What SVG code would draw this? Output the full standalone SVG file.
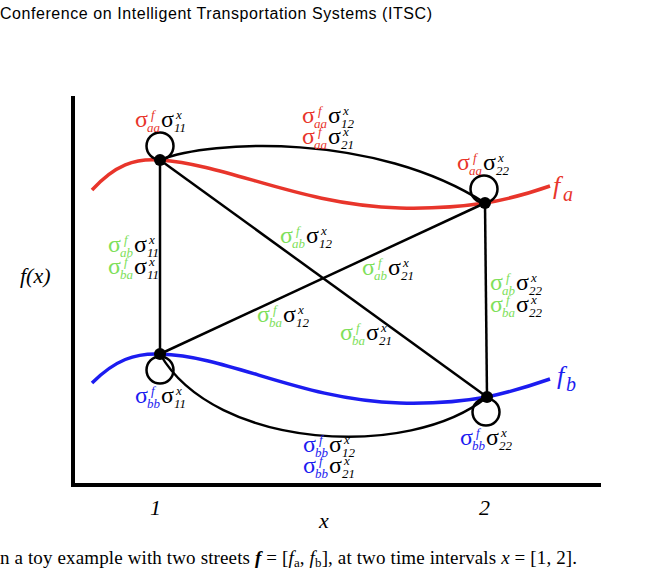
<svg xmlns="http://www.w3.org/2000/svg" width="655" height="579" viewBox="0 0 655 579">
<style>
.bg{fill:#fff}
.ax{stroke:#000;stroke-width:4;fill:none}
.e{stroke:#000;stroke-width:2.5;fill:none}
.lp{stroke:#000;stroke-width:2.5;fill:none}
.dot{fill:#000}
.fa{stroke:#e8352b;stroke-width:3.5;fill:none}
.fb{stroke:#1c1cf0;stroke-width:3.5;fill:none}
.s{font-family:"Liberation Serif",serif;font-size:24px}
.t{font-family:"Liberation Serif",serif;font-size:13px;font-style:italic}
.it{font-family:"Liberation Serif",serif;font-style:italic}
.r{fill:#e8352b}.g{fill:#7ee05a}.b{fill:#1c1cf0}
</style>
<rect class="bg" width="655" height="579"/>
<text x="0" y="19" font-family="Liberation Sans, sans-serif" font-size="16" textLength="432">Conference on Intelligent Transportation Systems (ITSC)</text>

<g id="axes">
<line class="ax" x1="73" y1="96" x2="73" y2="487"/>
<line class="ax" x1="71" y1="485" x2="601" y2="485"/>
<text class="it" x="20" y="283" font-size="22">f(x)</text>
<text class="it" x="150" y="515" font-size="22">1</text>
<text class="it" x="479" y="515" font-size="22">2</text>
<text class="it" x="319" y="528" font-size="22">x</text>
</g>

<g id="functions">
<path class="fa" d="M92,190 C115,165 135,158 160,160 C230,165 300,205 400,208 C440,209 465,206 485,203 C510,199 530,193 550,186"/>
<path class="fb" d="M92,383 C115,360 135,353 160,354 C230,356 300,400 400,403 C440,404 465,401 487,397 C510,392 530,386 550,379"/>
<text class="it r" x="553" y="194" font-size="26">f</text><text class="it r" x="563" y="201" font-size="20">a</text>
<text class="it b" x="557" y="384" font-size="26">f</text><text class="it b" x="566" y="391" font-size="20">b</text>
</g>

<g id="connectors">
<line class="e" x1="160" y1="160" x2="160" y2="354"/>
<line class="e" x1="485" y1="203" x2="487" y2="397"/>
<line class="e" x1="160" y1="160" x2="487" y2="397"/>
<line class="e" x1="160" y1="354" x2="485" y2="203"/>
<path class="e" d="M160,160 C210,140 375,132 485,203"/>
<path class="e" d="M160,354 C215,450 410,460 487,397"/>
</g>

<g id="node-a1">
<circle class="lp" cx="160" cy="146" r="13.5"/>
<circle class="dot" cx="160" cy="160" r="6"/>
<g transform="translate(135,127)"><text class="s r">σ</text><text class="t r" x="16" y="-8">f</text><text class="t r" x="12" y="5">aa</text><text class="s" x="26">σ</text><text class="t" x="41" y="-8">x</text><text class="t" x="39" y="5">11</text></g>
</g>
<g id="node-a2">
<circle class="lp" cx="484" cy="189" r="13.5"/>
<circle class="dot" cx="485" cy="203" r="6"/>
<g transform="translate(457,170)"><text class="s r">σ</text><text class="t r" x="16" y="-8">f</text><text class="t r" x="12" y="5">aa</text><text class="s" x="26">σ</text><text class="t" x="41" y="-8">x</text><text class="t" x="39" y="5">22</text></g>
</g>
<g id="node-b1">
<circle class="lp" cx="160" cy="370" r="13.5"/>
<circle class="dot" cx="160" cy="354" r="6"/>
<g transform="translate(135,403)"><text class="s b">σ</text><text class="t b" x="16" y="-8">f</text><text class="t b" x="12" y="5">bb</text><text class="s" x="26">σ</text><text class="t" x="41" y="-8">x</text><text class="t" x="39" y="5">11</text></g>
</g>
<g id="node-b2">
<circle class="lp" cx="486" cy="412" r="13.5"/>
<circle class="dot" cx="487" cy="397" r="6"/>
<g transform="translate(460,445)"><text class="s b">σ</text><text class="t b" x="16" y="-8">f</text><text class="t b" x="12" y="5">bb</text><text class="s" x="26">σ</text><text class="t" x="41" y="-8">x</text><text class="t" x="39" y="5">22</text></g>
</g>

<g id="edge-labels">
<g transform="translate(302,123)"><text class="s r">σ</text><text class="t r" x="16" y="-8">f</text><text class="t r" x="12" y="5">aa</text><text class="s" x="26">σ</text><text class="t" x="41" y="-8">x</text><text class="t" x="39" y="5">12</text></g>
<g transform="translate(302,144)"><text class="s r">σ</text><text class="t r" x="16" y="-8">f</text><text class="t r" x="12" y="5">aa</text><text class="s" x="26">σ</text><text class="t" x="41" y="-8">x</text><text class="t" x="39" y="5">21</text></g>
<g transform="translate(108,252)"><text class="s g">σ</text><text class="t g" x="16" y="-8">f</text><text class="t g" x="12" y="5">ab</text><text class="s" x="26">σ</text><text class="t" x="41" y="-8">x</text><text class="t" x="39" y="5">11</text></g>
<g transform="translate(108,274)"><text class="s g">σ</text><text class="t g" x="16" y="-8">f</text><text class="t g" x="12" y="5">ba</text><text class="s" x="26">σ</text><text class="t" x="41" y="-8">x</text><text class="t" x="39" y="5">11</text></g>
<g transform="translate(280,243)"><text class="s g">σ</text><text class="t g" x="16" y="-8">f</text><text class="t g" x="12" y="5">ab</text><text class="s" x="26">σ</text><text class="t" x="41" y="-8">x</text><text class="t" x="39" y="5">12</text></g>
<g transform="translate(257,322)"><text class="s g">σ</text><text class="t g" x="16" y="-8">f</text><text class="t g" x="12" y="5">ba</text><text class="s" x="26">σ</text><text class="t" x="41" y="-8">x</text><text class="t" x="39" y="5">12</text></g>
<g transform="translate(362,275)"><text class="s g">σ</text><text class="t g" x="16" y="-8">f</text><text class="t g" x="12" y="5">ab</text><text class="s" x="26">σ</text><text class="t" x="41" y="-8">x</text><text class="t" x="39" y="5">21</text></g>
<g transform="translate(340,340)"><text class="s g">σ</text><text class="t g" x="16" y="-8">f</text><text class="t g" x="12" y="5">ba</text><text class="s" x="26">σ</text><text class="t" x="41" y="-8">x</text><text class="t" x="39" y="5">21</text></g>
<g transform="translate(490,290)"><text class="s g">σ</text><text class="t g" x="16" y="-8">f</text><text class="t g" x="12" y="5">ab</text><text class="s" x="26">σ</text><text class="t" x="41" y="-8">x</text><text class="t" x="39" y="5">22</text></g>
<g transform="translate(490,312)"><text class="s g">σ</text><text class="t g" x="16" y="-8">f</text><text class="t g" x="12" y="5">ba</text><text class="s" x="26">σ</text><text class="t" x="41" y="-8">x</text><text class="t" x="39" y="5">22</text></g>
<g transform="translate(303,452)"><text class="s b">σ</text><text class="t b" x="16" y="-8">f</text><text class="t b" x="12" y="5">bb</text><text class="s" x="26">σ</text><text class="t" x="41" y="-8">x</text><text class="t" x="39" y="5">12</text></g>
<g transform="translate(303,473)"><text class="s b">σ</text><text class="t b" x="16" y="-8">f</text><text class="t b" x="12" y="5">bb</text><text class="s" x="26">σ</text><text class="t" x="41" y="-8">x</text><text class="t" x="39" y="5">21</text></g>
</g>

<text x="0" y="564" font-family="Liberation Serif, serif" font-size="19" textLength="577">n a toy example with two streets <tspan font-style="italic" font-weight="bold">f</tspan> = [<tspan font-style="italic">f</tspan><tspan font-size="13" dy="3">a</tspan><tspan dy="-3">, </tspan><tspan font-style="italic">f</tspan><tspan font-size="13" dy="3">b</tspan><tspan dy="-3">], at two time intervals </tspan><tspan font-style="italic">x</tspan> = [1, 2].</text>
</svg>
